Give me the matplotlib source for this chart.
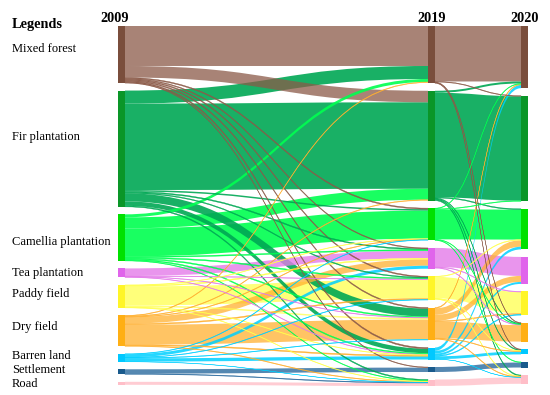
import numpy as np
import matplotlib.pyplot as plt
from matplotlib.path import Path
from matplotlib.patches import PathPatch, Rectangle

# land use classes, top to bottom
classes = ['Mixed forest', 'Fir plantation', 'Camellia plantation', 'Tea plantation',
           'Paddy field', 'Dry field', 'Barren land', 'Settlement', 'Road']
years = ['2009', '2019', '2020']

node_colors = ['#7a4e3c', '#0a9628', '#00e100', '#e064eb', '#fff528',
               '#ffaf14', '#00c8ff', '#195a8c', '#ffbec8']
link_colors = ['#8b5a48', '#00a854', '#00ff50', '#e47be9', '#ffff4d',
               '#ffb030', '#00d0ff', '#2a6a9e', '#ffc0c8']
link_alpha = [0.75, 0.9, 0.9, 0.8, 0.75, 0.75, 0.85, 0.8, 0.8]

# transitions (rows = from, cols = to), same class order as above
flow_2009_2019 = [
    [40.0, 11.5, 1.0, 0.8, 1.0, 1.0, 1.2, 0.6, 0.0],
    [13.0, 86.5, 1.5, 1.0, 0.8, 8.0, 4.5, 0.0, 1.0],
    [3.0, 11.0, 28.0, 1.0, 1.0, 1.0, 1.0, 0.0, 0.6],
    [0.0, 0.0, 0.0, 7.5, 0.5, 0.5, 0.5, 0.0, 0.0],
    [0.0, 0.0, 0.5, 1.0, 19.0, 1.5, 0.5, 0.0, 0.5],
    [0.6, 0.6, 0.6, 6.5, 1.0, 20.0, 1.0, 0.0, 0.6],
    [0.0, 0.0, 0.5, 3.0, 0.5, 0.5, 3.3, 0.0, 0.2],
    [0.0, 0.0, 0.0, 0.0, 0.0, 0.0, 0.0, 4.4, 0.6],
    [0.0, 0.0, 0.0, 0.0, 0.0, 0.0, 0.0, 0.0, 3.0],
]
flow_2019_2020 = [
    [55.5, 0.6, 0.0, 0.0, 0.0, 0.6, 0.6, 0.0, 0.0],
    [2.0, 104.5, 0.8, 0.0, 0.0, 0.8, 0.8, 0.0, 1.0],
    [0.6, 0.6, 30.0, 0.0, 0.0, 0.5, 0.0, 0.6, 0.0],
    [0.0, 0.0, 0.0, 19.0, 0.6, 0.6, 0.0, 0.0, 0.0],
    [0.0, 0.0, 0.6, 0.0, 21.5, 0.0, 0.5, 0.0, 0.6],
    [0.8, 0.0, 6.5, 6.0, 0.8, 16.5, 0.6, 0.0, 0.6],
    [3.3, 0.0, 2.7, 2.0, 0.8, 0.0, 2.8, 0.0, 0.2],
    [0.0, 0.0, 0.0, 0.0, 0.0, 0.0, 0.0, 5.0, 0.0],
    [0.0, 0.0, 0.0, 0.0, 0.0, 0.0, 0.0, 0.0, 6.4],
]

# ---- layout in pixel units ----
W, H = 550, 395
col_x = [118, 428, 521]
node_w = 7
top, bottom = 26, 386
pad = 7.5
thin = 1.2
label_y = [52, 140, 245, 276, 297, 330, 359, 373, 387]

f1 = np.array(flow_2009_2019)
f2 = np.array(flow_2019_2020)
n = len(classes)
col_vals = [f1.sum(1), np.maximum(f1.sum(0), f2.sum(1)), f2.sum(0)]
ky = min((bottom - top - (n - 1) * pad) / v.sum() for v in col_vals)

node_y0 = []
for v in col_vals:
    y = top
    ys = []
    for val in v:
        ys.append(y)
        y += val * ky + pad
    node_y0.append(ys)

fig = plt.figure(figsize=(5.5, 3.95), dpi=100)
ax = fig.add_axes([0, 0, 1, 1])
ax.set_xlim(0, W)
ax.set_ylim(H, 0)
ax.axis('off')


def draw_link(xs, s0, s1, xt, t0, t1, i):
    xm = (xs + xt) / 2
    verts = [(xs, s0), (xm, s0), (xm, t0), (xt, t0),
             (xt, t1), (xm, t1), (xm, s1), (xs, s1), (xs, s0)]
    codes = [Path.MOVETO, Path.CURVE4, Path.CURVE4, Path.CURVE4,
             Path.LINETO, Path.CURVE4, Path.CURVE4, Path.CURVE4, Path.CLOSEPOLY]
    if s1 - s0 < thin:
        # thin links read as solid hairlines in the original
        patch = PathPatch(Path(verts, codes), facecolor=link_colors[i], alpha=0.95,
                          edgecolor=link_colors[i], linewidth=0.3, zorder=2)
    else:
        patch = PathPatch(Path(verts, codes), facecolor=link_colors[i],
                          alpha=link_alpha[i], edgecolor='none', zorder=1)
    ax.add_patch(patch)


links = []
for c, flows in enumerate([f1, f2]):
    out_off = list(node_y0[c])
    in_off = list(node_y0[c + 1])
    xs = col_x[c] + node_w
    xt = col_x[c + 1]
    for i in range(n):
        for j in range(n):
            h = flows[i, j] * ky
            if h <= 0:
                continue
            links.append((h, xs, out_off[i], xt, in_off[j], i))
            out_off[i] += h
            in_off[j] += h

# big ribbons first, small ones on top
for h, xs, s0, xt, t0, i in sorted(links, key=lambda l: -l[0]):
    draw_link(xs, s0, s0 + h, xt, t0, t0 + h, i)

for c in range(3):
    for i in range(n):
        ax.add_patch(Rectangle((col_x[c], node_y0[c][i]), node_w, col_vals[c][i] * ky,
                               facecolor=node_colors[i], edgecolor='none', zorder=3))

serif = 'Liberation Serif'
year_shift = [-7, 0, 0]
for c, yr in enumerate(years):
    ax.text(col_x[c] + node_w / 2 + year_shift[c], 22, yr, ha='center', va='baseline',
            fontsize=10.3, fontweight='bold', family=serif, zorder=5)

ax.text(12, 28, 'Legends', ha='left', va='baseline', fontsize=10.3,
        fontweight='bold', family=serif, zorder=5)
for name, y in zip(classes, label_y):
    ax.text(12, y, name, ha='left', va='baseline', fontsize=9, family=serif, zorder=5)

fig.savefig('out.png', dpi=100)
